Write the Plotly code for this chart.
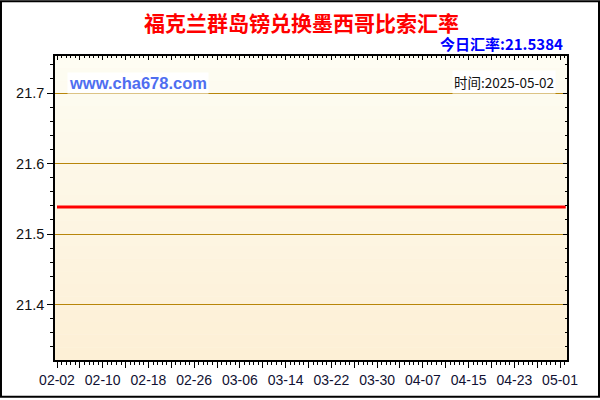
import pandas as pd
import plotly.graph_objects as go

# daily rate, 2025-02-02 .. 2025-05-02
dates = pd.date_range("2025-02-02", "2025-05-02", freq="D")
rates = [
    21.5384, 21.5384, 21.5384, 21.5384, 21.5384, 21.5384, 21.5384, 21.5384, 21.5384, 21.5384,
    21.5384, 21.5384, 21.5384, 21.5384, 21.5384, 21.5384, 21.5384, 21.5384, 21.5384, 21.5384,
    21.5384, 21.5384, 21.5384, 21.5384, 21.5384, 21.5384, 21.5384, 21.5384, 21.5384, 21.5384,
    21.5384, 21.5384, 21.5384, 21.5384, 21.5384, 21.5384, 21.5384, 21.5384, 21.5384, 21.5384,
    21.5384, 21.5384, 21.5384, 21.5384, 21.5384, 21.5384, 21.5384, 21.5384, 21.5384, 21.5384,
    21.5384, 21.5384, 21.5384, 21.5384, 21.5384, 21.5384, 21.5384, 21.5384, 21.5384, 21.5384,
    21.5384, 21.5384, 21.5384, 21.5384, 21.5384, 21.5384, 21.5384, 21.5384, 21.5384, 21.5384,
    21.5384, 21.5384, 21.5384, 21.5384, 21.5384, 21.5384, 21.5384, 21.5384, 21.5384, 21.5384,
    21.5384, 21.5384, 21.5384, 21.5384, 21.5384, 21.5384, 21.5384, 21.5384, 21.5384, 21.5384,
]
x_labels = ["02-02", "02-10", "02-18", "02-26", "03-06", "03-14",
            "03-22", "03-30", "04-07", "04-15", "04-23", "05-01"]
y_ticks = [21.4, 21.5, 21.6, 21.7]

title = "福克兰群岛镑兑换墨西哥比索汇率"
today_rate = "今日汇率:21.5384"
site = "www.cha678.com"
stamp = "时间:2025-05-02"

FONT = "Arial, Liberation Sans, Noto Sans CJK SC"
CJK = "Noto Sans CJK SC, Arial"

# every 4 days a long tick, label on every other one
tick_dates = pd.date_range("2025-02-02", periods=23, freq="4D")
tick_text = []
for i, d in enumerate(tick_dates):
    tick_text.append(x_labels[i // 2] if i % 2 == 0 else "")

x0 = pd.Timestamp("2025-02-02") - pd.Timedelta(hours=8.4)
x1 = pd.Timestamp("2025-02-02") + pd.Timedelta(hours=89.22 * 24)
y_range = [21.3212, 21.7526]

fig = go.Figure()
fig.add_trace(go.Scatter(x=dates, y=rates, mode="lines",
                         line=dict(color="#ff0000", width=3),
                         hoverinfo="skip", showlegend=False))
# dummy trace for the top/right tick axes
fig.add_trace(go.Scatter(x=[dates[0]], y=[rates[0]], xaxis="x2", yaxis="y2",
                         mode="markers", marker=dict(opacity=0),
                         hoverinfo="skip", showlegend=False))

# background gradient, light at the top to beige at the bottom
shapes = []
n = 24
for i in range(n):
    t = i / (n - 1)
    r = 254 + (253 - 254) * t
    g = 253 + (240 - 253) * t
    b = 243 + (214 - 243) * t
    shapes.append(dict(type="rect", xref="paper", yref="paper",
                       x0=0, x1=1, y0=1 - (i + 1) / n, y1=1 - i / n,
                       fillcolor="rgb(%d,%d,%d)" % (r, g, b),
                       line=dict(width=0), layer="below"))
# outer frame
shapes.append(dict(type="rect", xref="paper", yref="paper",
                   x0=-0.1055, x1=1.0625, y0=-0.121, y1=1.18,
                   line=dict(color="black", width=2)))

axis_common = dict(showline=True, linecolor="black", linewidth=1.5)

fig.update_layout(
    width=600, height=400,
    margin=dict(l=55, r=33, t=56, b=38),
    paper_bgcolor="white",
    plot_bgcolor="#fdf8e6",
    shapes=shapes,
    font=dict(family=FONT, color="#111111"),
    xaxis=dict(
        type="date", range=[x0, x1],
        tickvals=list(tick_dates), ticktext=tick_text,
        ticks="outside", ticklen=6, tickcolor="black",
        tickfont=dict(size=14, family=FONT, color="#111133"),
        minor=dict(dtick=0.8 * 86400000, ticks="outside", ticklen=3,
                   tickcolor="black", tick0="2025-02-02", showgrid=False),
        showgrid=False, zeroline=False, **axis_common,
    ),
    yaxis=dict(
        range=y_range, tickvals=y_ticks,
        ticktext=["%.1f" % v for v in y_ticks],
        ticks="outside", ticklen=6, tickcolor="black",
        tickfont=dict(size=14.5, family=FONT, color="#111111"),
        minor=dict(dtick=0.02, ticks="outside", ticklen=3,
                   tickcolor="black", showgrid=False),
        showgrid=True, gridcolor="#b8860b", gridwidth=1,
        zeroline=False, **axis_common,
    ),
    xaxis2=dict(
        type="date", range=[x0, x1], overlaying="x", side="top",
        tickvals=list(tick_dates), showticklabels=False,
        ticks="inside", ticklen=4, tickcolor="black",
        minor=dict(dtick=0.8 * 86400000, ticks="inside", ticklen=2,
                   tickcolor="black", tick0="2025-02-02"),
        showgrid=False, zeroline=False, **axis_common,
    ),
    yaxis2=dict(
        range=y_range, overlaying="y", side="right",
        tickvals=y_ticks, showticklabels=False,
        ticks="inside", ticklen=4, tickcolor="black",
        minor=dict(dtick=0.02, ticks="inside", ticklen=2, tickcolor="black"),
        showgrid=False, zeroline=False, **axis_common,
    ),
    annotations=[
        dict(text="<b>%s</b>" % title, xref="paper", yref="paper",
             x=0.4805, y=1.111, xanchor="center", yanchor="middle",
             showarrow=False, font=dict(size=21, color="#ff0000", family=CJK)),
        dict(text="<b>%s</b>" % today_rate, xref="paper", yref="paper",
             x=0.996, y=1.042, xanchor="right", yanchor="middle",
             showarrow=False, font=dict(size=15, color="#0000ff", family=CJK)),
        dict(text="<b>%s</b>" % site, xref="paper", yref="paper",
             x=0.0234, y=0.912, xanchor="left", yanchor="middle",
             showarrow=False, bgcolor="white",
             font=dict(size=16.5, color="#4f6ef0", family=FONT)),
        dict(text=stamp, xref="paper", yref="paper",
             x=0.978, y=0.915, xanchor="right", yanchor="middle",
             showarrow=False, bgcolor="white",
             font=dict(size=13.5, color="#111111", family=CJK)),
    ],
)

fig.write_html("out.html", config={"displayModeBar": False},
               post_script="document.body.style.margin='0';")
